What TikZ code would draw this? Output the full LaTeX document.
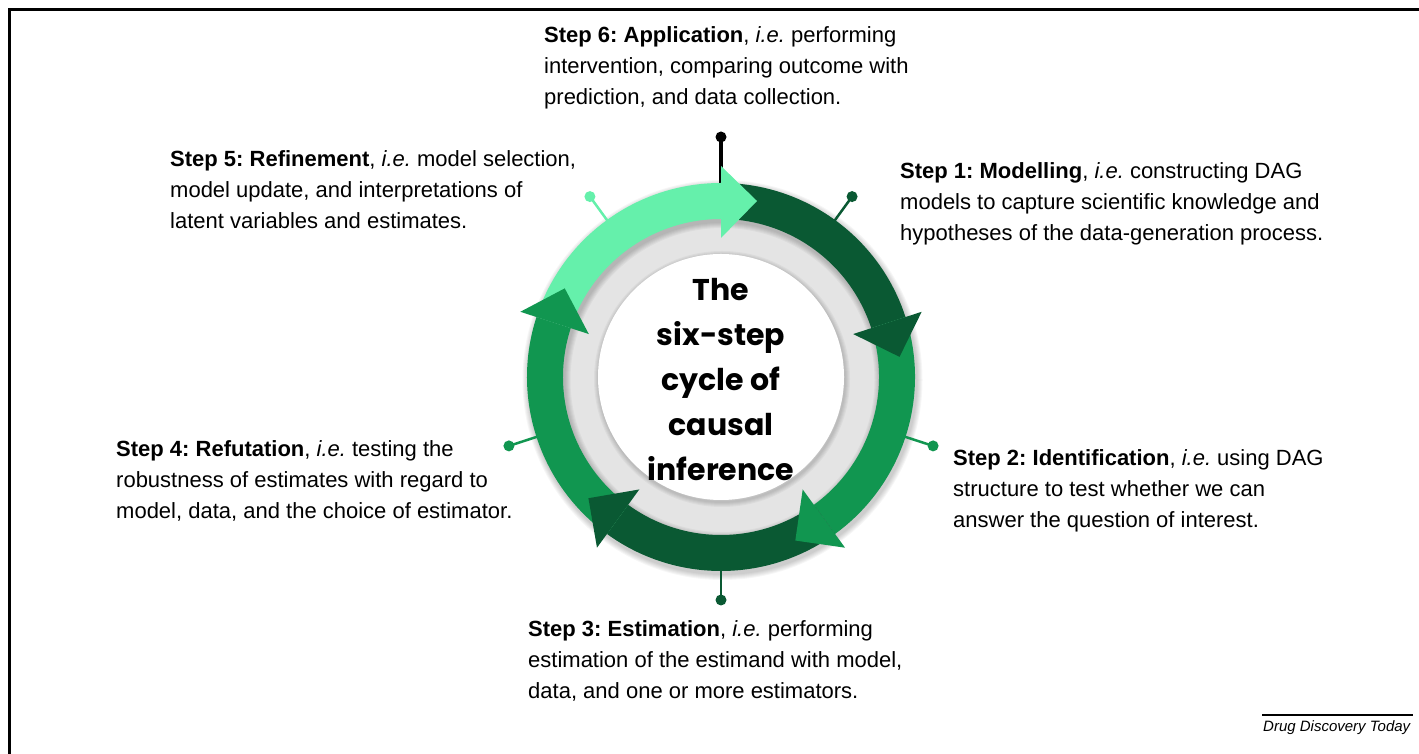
\documentclass[tikz,border=0pt]{standalone}
\usepackage{fontspec}
\setmainfont{Liberation Sans}
\newfontfamily\poppins{Poppins}
\usetikzlibrary{calc}
\definecolor{lgreen}{RGB}{101,240,171}
\definecolor{dgreen}{RGB}{10,89,51}
\definecolor{mgreen}{RGB}{17,150,80}
\definecolor{ringgray}{RGB}{228,228,228}
\frenchspacing
\tikzset{
  steptext/.style={anchor=base west, inner sep=0pt, align=left, font=\fontsize{22}{31}\selectfont},
  pindot/.style={circle, inner sep=0pt, minimum size=11pt},
  pinline/.style={line width=2.5pt},
  softshadow/.style={fill=black, opacity=0.035, even odd rule},
}
\newcommand{\seg}[3]{% color, start angle, end angle
  \fill[#1] ($(C)+(#2:194)$) arc[start angle=#2, end angle=#3, radius=194]
    -- ($(C)+(#3:158)$) arc[start angle=#3, end angle=#2, radius=158] -- cycle;}
\newcommand{\head}[2]{% color, angle
  \fill[#1] ($(C)+(#2:139)$) -- ($(C)+(#2:211)$) -- ($(C)+(#2:176)+(#2-90:36)$) -- cycle;}
\begin{document}
\begin{tikzpicture}[x=1pt,y=1pt]
\useasboundingbox (0,0) rectangle (1419,754);
\coordinate (C) at (721,377);
% frame
\draw[line width=3pt] (9,0) -- (9,744) -- (1419,744);
% gray ring and white disc
\fill[ringgray] (C) circle[radius=160];
\foreach \k in {1,...,5}{
  \fill[softshadow] ($(C)+(1,-2)$) circle[radius=123+\k] circle[radius=123-\k];
}
\fill[white] (C) circle[radius=123];
% soft shadow of the green ring
\foreach \k in {1,...,6}{
  \fill[softshadow] ($(C)+(1.5,-3)$) circle[radius=194+\k] circle[radius=158-\k];
}
% pins
\foreach \a/\c/\n in {54/dgreen/1, -18/mgreen/2, -90/dgreen/3, 198/mgreen/4, 126/lgreen/5}{
  \coordinate (r\n) at ($(C)+(\a:190)$);
  \node[pindot, fill=\c] (p\n) at ($(C)+(\a:223)$) {};
  \draw[pinline, \c] (r\n) -- (p\n.center);
}
\coordinate (r6) at ($(C)+(90:190)$);
\node[pindot, fill=black] (p6) at ($(C)+(90:240)$) {};
\draw[line width=3.5pt, black] (r6) -- (p6.center);
% ring segments
\seg{lgreen}{162}{90}
\seg{dgreen}{90}{18}
\seg{mgreen}{18}{-54}
\seg{dgreen}{-54}{-126}
\seg{mgreen}{-126}{-198}
% arrow heads
\head{lgreen}{90}
\head{dgreen}{18}
\head{mgreen}{-54}
\head{dgreen}{-126}
\head{mgreen}{162}
% centre text
\node[align=center, inner sep=0pt, font=\poppins\bfseries\fontsize{30}{45}\selectfont] (title) at (721,374)
  {The\\six-step\\cycle of\\causal\\inference};
% step texts (anchor = baseline of last line)
\node[steptext] (s6) at (544,649) {\textbf{Step 6: Application}, \textit{i.e.} performing\\intervention, comparing outcome with\\prediction, and data collection.};
\node[steptext] (s5) at (170,525) {\textbf{Step 5: Refinement}, \textit{i.e.} model selection,\\model update, and interpretations of\\latent variables and estimates.};
\node[steptext] (s1) at (900,513) {\textbf{Step 1: Modelling}, \textit{i.e.} constructing DAG\\models to capture scientific knowledge and\\hypotheses of the data-generation process.};
\node[steptext] (s2) at (953,226) {\textbf{Step 2: Identification}, \textit{i.e.} using DAG\\structure to test whether we can\\answer the question of interest.};
\node[steptext] (s4) at (116,235) {\textbf{Step 4: Refutation}, \textit{i.e.} testing the\\robustness of estimates with regard to\\model, data, and the choice of estimator.};
\node[steptext] (s3) at (528,55) {\textbf{Step 3: Estimation}, \textit{i.e.} performing\\estimation of the estimand with model,\\data, and one or more estimators.};
% journal label
\coordinate (jl) at (1262,39);
\coordinate (jr) at (1413,39);
\draw[line width=1.2pt] (jl) -- (jr);
\node[anchor=base west, inner sep=0pt, font=\itshape\fontsize{15}{18}\selectfont] (ddt) at (1263,22) {Drug Discovery Today};
\end{tikzpicture}
\end{document}
